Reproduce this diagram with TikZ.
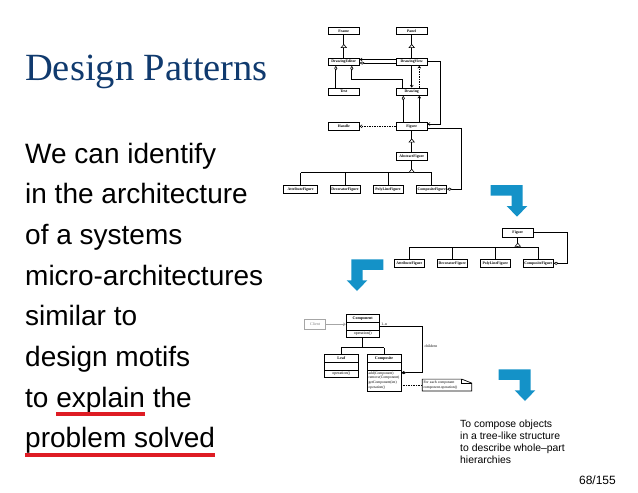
\documentclass[tikz,border=0pt]{standalone}
\usepackage{fontspec}
\setmainfont{Liberation Serif}
\setsansfont{Liberation Sans}
\usetikzlibrary{arrows.meta,calc,decorations.markings,shapes.multipart}
\definecolor{navy}{RGB}{16,58,110}
\definecolor{slideblue}{RGB}{20,146,200}
\definecolor{redmk}{RGB}{222,28,36}
\tikzset{
  cls/.style={draw,line width=0.7pt,minimum width=31pt,minimum height=7.5pt,inner sep=0.5pt,
    font=\fontsize{3.8}{4.5}\selectfont\bfseries},          % class box, top diagrams
  ucls/.style={draw,line width=0.6pt,rectangle split,rectangle split parts=3,anchor=north,
    inner ysep=1pt,inner xsep=1.5pt,font=\fontsize{4}{5}\selectfont}, % class box with compartments
  lnk/.style={line width=0.7pt},
  gen/.style={lnk,postaction={decorate},decoration={markings,
    mark=at position #1 with {\arrow{Triangle[fill=white,length=4pt,width=6.5pt,line width=0.6pt]}}}}, % generalisation
  agg/.style={lnk,{Diamond[fill=white,length=5pt,width=3pt,line width=0.6pt]}-}, % aggregation
  nav/.style={lnk,-{Straight Barb[length=2pt,width=3pt,line width=0.6pt]}},
  dep/.style={nav,dash pattern=on 1.5pt off 1pt},
  lbl/.style={font=\fontsize{3.8}{4.5}\selectfont,inner sep=0.5pt},
  bodytxt/.style={font=\sffamily\fontsize{28}{34}\selectfont,anchor=base west,inner sep=0pt},
  uline/.style={line width=3.5pt,draw=redmk},
}
\begin{document}
\begin{tikzpicture}[x=1pt,y=-1pt]
  \useasboundingbox (0,0) rectangle (638,493);
  % ---- slide text ----
  \node[anchor=base west,inner sep=0pt,text=navy,font=\fontsize{38.5}{44}\selectfont] (title) at (25,80) {Design Patterns};
  \foreach \t [count=\i] in {We can identify,in the architecture,of a systems,micro-architectures,
      similar to,design motifs,to explain the,problem solved}
    \node[bodytxt] (l\i) at (25,{163+40.7*(\i-1)}) {\t};
  \draw[uline] (56,414) -- (145,414);
  \draw[uline] (25,455) -- (215,455);

  % ---- framework diagram ----
  \foreach \n/\x/\y/\t in {frame/343.8/30.8/Frame, panel/411.7/30.8/Panel,
      edt/343.8/61.7/DrawingEditor, view/411.7/61.7/DrawingView,
      txt/343.8/91.7/Text, drw/411.7/91.7/Drawing,
      hdl/343.8/126.3/Handle, fig/411.7/126.3/Figure, afig/411.7/156.3/AbstractFigure}
    \node[cls] (\n) at (\x,\y) {\t};
  \foreach \n/\x/\w/\t in {attr/300.5/34/AttributeFigure, deco/345/30/DecoratorFigure,
      poly/388/30/PolyLineFigure, comp/431.7/30/CompositeFigure}
    \node[cls,minimum width=\w pt,minimum height=8.3pt] (\n) at (\x,189.2) {\t};
  \draw[gen=0.6] (edt) -- (frame);
  \draw[gen=0.6] (view) -- (panel);
  \draw[nav] ([yshift=2.2pt]view.west) -- ([yshift=2.2pt]edt.east);
  \draw[agg] ([yshift=-1.3pt]edt.east) -- ([yshift=-1.3pt]view.west);
  \draw[agg] ([xshift=-8pt]edt.south) -- ([xshift=-8pt]txt.north);
  \draw[agg] ([xshift=8pt]edt.south) -- ++(0,14) -| ([xshift=-9pt]drw.north);
  \draw[nav] (view.south) -- (drw.north);
  \draw[dep] ([xshift=7.6pt]drw.north) -- ([xshift=7.6pt]view.south);
  \draw[agg] ([xshift=-8.4pt]drw.south) -- ([xshift=-8.4pt]fig.north);
  \draw[nav] ([xshift=7.6pt]fig.north) -- ([xshift=7.6pt]drw.south);
  \draw[nav] (view.east) -- ++(12.3,0) |- ([yshift=2.3pt]fig.east);
  \draw[dep] (fig) -- (hdl);
  \draw[agg] (comp.east) -- ++(14.3,0) |- ([yshift=-2pt]fig.east);
  \draw[gen=0.63] (afig) -- (fig);
  \coordinate (tbus) at (afig.south |- 0,172.7);
  \foreach \n in {attr,deco,poly,comp}
    \draw[lnk] (\n.north) -- (\n.north |- tbus);
  \draw[lnk] (attr.north |- tbus) -- (comp.north |- tbus);
  \draw[gen=4pt] (tbus) -- (afig.south);

  % ---- reduced figure hierarchy ----
  \node[cls,minimum height=8.5pt] (fig2) at (517.8,232.7) {Figure};
  \foreach \n/\x/\t in {attr2/409.3/AttributeFigure, deco2/452.3/DecoratorFigure,
      poly2/495.3/PolyLineFigure, comp2/538.3/CompositeFigure}
    \node[cls,minimum width=30pt,minimum height=8pt] (\n) at (\x,263.3) {\t};
  \coordinate (bus2) at (fig2.south |- 0,247.3);
  \foreach \n in {attr2,deco2,poly2,comp2}
    \draw[lnk] (\n.north) -- (\n.north |- bus2);
  \draw[lnk] (attr2.north |- bus2) -- (comp2.north |- bus2);
  \draw[gen=4.6pt] (bus2) -- (fig2.south);
  \draw[agg] (comp2.east) -- ++(13.4,0) |- (fig2.east);

  % ---- composite pattern ----
  \node[draw=gray!70,text=gray,font=\fontsize{4}{5}\selectfont,minimum width=21.4pt,
    minimum height=10pt,inner sep=0.5pt,line width=0.6pt] (client) at (315,324.3) {Client};
  \node[ucls,minimum width=33.3pt] (cmp) at (362.7,314.3)
    {\strut\textbf{Component}\nodepart{two}\strut\nodepart{three}\strut operation()};
  \node[ucls,minimum width=34pt] (leaf) at (341.3,354.3)
    {\strut\textbf{Leaf}\nodepart{two}\strut\nodepart{three}\strut operation()};
  \node[ucls,minimum width=33.3pt,rectangle split part align={center,center,left}] (cmpst) at (384,354.3)
    {\strut\textbf{Composite}\nodepart{two}\strut\nodepart{three}\fontsize{3.7}{4.6}\selectfont
     \begin{tabular}{@{}l@{}}add(Component)\\remove(Component)\\getComponent(int)\\operation()\end{tabular}};
  \draw[nav,gray!70] (client) -- (client -| cmp.west);
  \coordinate (bus3) at (cmp.south |- 0,347.7);
  \foreach \n in {leaf,cmpst}
    \draw[lnk] (\n.north) -- (\n.north |- bus3);
  \draw[lnk] (leaf.north |- bus3) -- (cmpst.north |- bus3);
  \draw[gen=11pt] (bus3) -- (cmp.south);
  \draw[lnk,{Diamond[length=5pt,width=3pt]}-] (cmpst.east) -- ++(21.6,0) |- (cmp.east);
  \node[lbl,anchor=south west] (mult) at ([xshift=1pt]cmp.east) {1..n};
  \node[lbl,anchor=west] (role) at (424,345.7) {children};
  \node[font=\fontsize{3.7}{5.2}\selectfont,align=left,text width=47pt,inner xsep=1pt,
    inner ysep=0.5pt,minimum height=11.4pt] (note) at (447,385)
    {For each component\\component.operation()};
  \draw[lnk] (note.south west) -- (note.north west) -- ([xshift=-10pt]note.north east)
    -- ([yshift=-4pt]note.north east) -- (note.south east) -- cycle;
  \draw[lnk] ([xshift=-10pt]note.north east) -- ++(0,4) -- ([yshift=-4pt]note.north east);
  \draw[lnk,dash pattern=on 1.5pt off 1pt] (note.west) -- (note.west -| cmpst.east);

  % ---- bent blue arrows ----
  \foreach \c/\t/\s in {517/185/1, 357/259.3/-1, 525/369.3/1}{
    \begin{scope}[shift={(\c,\t)},xscale=\s]
      \fill[slideblue] (-26.3,0) -- (5.7,0) -- (5.7,21) -- (10.3,21) -- (0,31.7)
        -- (-10.3,21) -- (-5.5,21) -- (-5.5,10.5) -- (-26.3,10.5) -- cycle;
    \end{scope}
  }

  \node[anchor=north west,inner sep=0pt,align=left,font=\sffamily\fontsize{10.4}{12}\selectfont] (goal)
    at (460,419.5) {To compose objects\\in a tree-like structure\\to describe whole--part\\hierarchies};
  \node[anchor=base east,inner sep=0pt,font=\sffamily\fontsize{12}{14}\selectfont] (pgno)
    at (616,484.5) {68/155};
\end{tikzpicture}
\end{document}
